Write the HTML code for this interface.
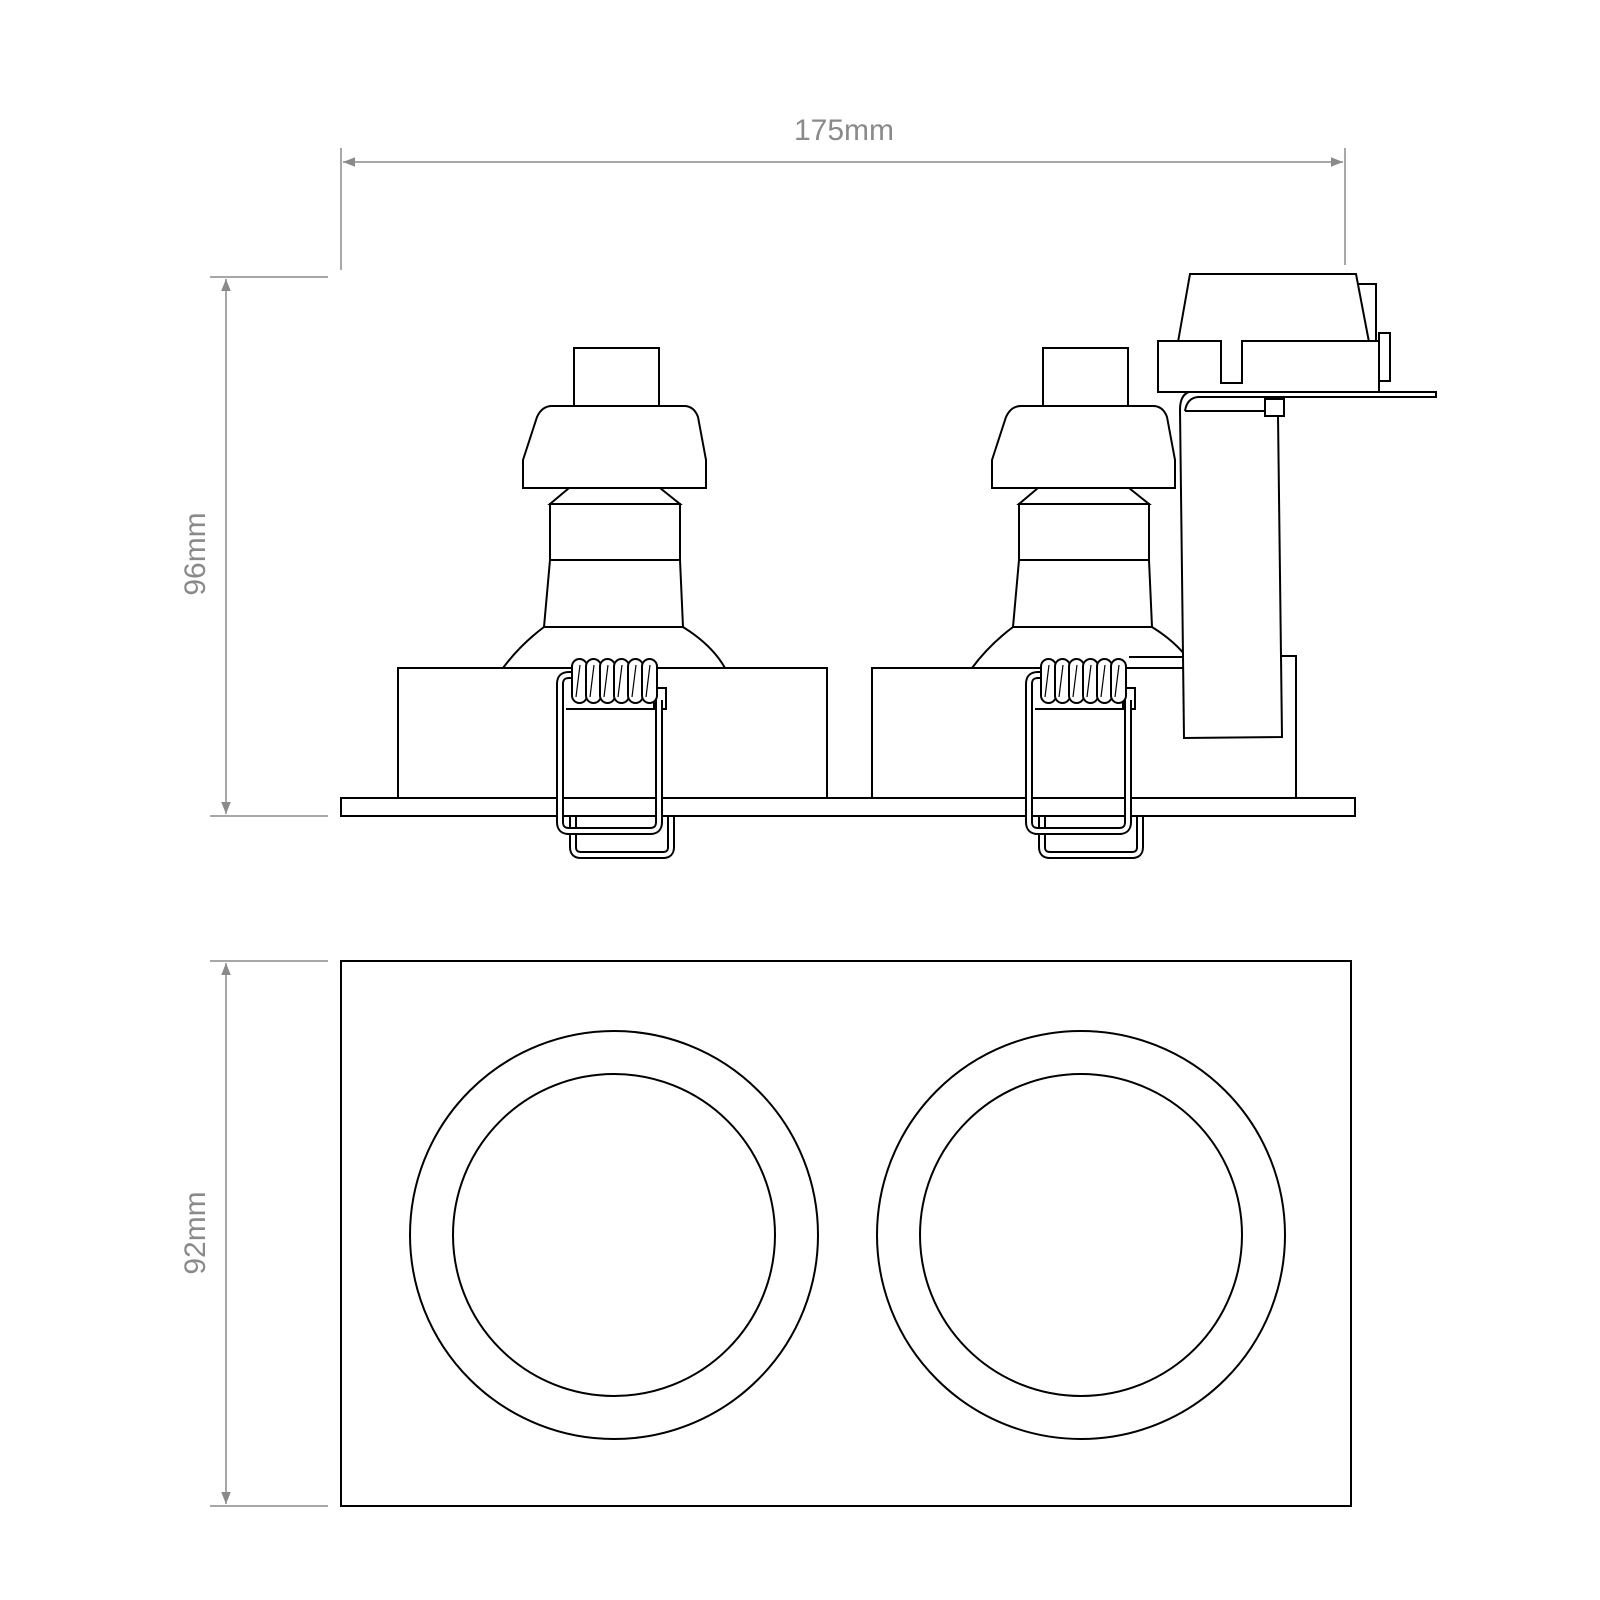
<!DOCTYPE html>
<html><head><meta charset="utf-8"><style>
html,body{margin:0;padding:0;background:#fff}
svg{display:block}
text{font-family:"Liberation Sans",sans-serif;fill:#8a8a8a;font-size:30px}
</style></head><body>
<svg width="1600" height="1600" viewBox="0 0 1600 1600" xmlns="http://www.w3.org/2000/svg">
<defs>
<marker id="ah" viewBox="0 0 10 10" refX="10" refY="5" markerWidth="12" markerHeight="12" markerUnits="userSpaceOnUse" orient="auto-start-reverse"><path d="M0,1 L10,5 L0,9 z" fill="#8a8a8a"/></marker>
<g id="lamp">
<rect x="574" y="348" width="85" height="58" fill="#fff" stroke="#000" stroke-width="2"/>
<path d="M523,488 L523,460 L537,417 Q542,406 552,406 L684,406 Q694,406 698,417 L706,460 L706,488 Z" fill="#fff" stroke="#000" stroke-width="2"/>
<path d="M569,488 L550,504 L680,504 L660,488" fill="none" stroke="#000" stroke-width="2"/>
<rect x="550" y="504" width="130" height="56" fill="none" stroke="#000" stroke-width="2"/>
<path d="M550,560 L544,627 L683,627 L680,560" fill="none" stroke="#000" stroke-width="2"/>
<path d="M544,627 Q520,645 503,668 M683,627 Q712,645 725,668" fill="none" stroke="#000" stroke-width="2"/>
</g>
<g id="clipLower">
<path d="M573,813 L573,847 Q573,855 581,855 L663,855 Q671,855 671,847 L671,813" fill="none" stroke="#000" stroke-width="8"/>
<path d="M573,813 L573,847 Q573,855 581,855 L663,855 Q671,855 671,847 L671,813" fill="none" stroke="#fff" stroke-width="4"/>
</g>
<g id="clipUpper">
<rect x="654" y="688" width="12" height="21" fill="#fff" stroke="#000" stroke-width="2"/>
<path d="M659,700 L659,822 Q659,831 650,831 L569,831 Q560,831 560,822 L560,684 Q560,675 569,675 L578,675" fill="none" stroke="#000" stroke-width="8"/>
<path d="M659,700 L659,822 Q659,831 650,831 L569,831 Q560,831 560,822 L560,684 Q560,675 569,675 L578,675" fill="none" stroke="#fff" stroke-width="4"/>
<line x1="566" y1="709" x2="654" y2="709" stroke="#000" stroke-width="2"/>
<g fill="#fff" stroke="#000" stroke-width="2">
<rect x="572" y="659" width="15" height="44" rx="7.5"/>
<rect x="586" y="659" width="15" height="44" rx="7.5"/>
<rect x="600" y="659" width="15" height="44" rx="7.5"/>
<rect x="614" y="659" width="15" height="44" rx="7.5"/>
<rect x="628" y="659" width="15" height="44" rx="7.5"/>
<rect x="642" y="659" width="15" height="44" rx="7.5"/>
</g>
<g stroke="#000" stroke-width="1.2" fill="none">
<path d="M580,665 L576,697 M594,665 L590,697 M608,665 L604,697 M622,665 L618,697 M636,665 L632,697 M650,665 L646,697"/>
</g>
</g>
</defs>

<text x="844" y="140" text-anchor="middle">175mm</text>
<line x1="341" y1="148" x2="341" y2="270" stroke="#8a8a8a" stroke-width="1.5"/>
<line x1="1345" y1="148" x2="1345" y2="265" stroke="#8a8a8a" stroke-width="1.5"/>
<line x1="343" y1="162" x2="1343" y2="162" stroke="#8a8a8a" stroke-width="1.5" marker-start="url(#ah)" marker-end="url(#ah)"/>

<line x1="210" y1="277" x2="328" y2="277" stroke="#8a8a8a" stroke-width="1.5"/>
<line x1="210" y1="816" x2="328" y2="816" stroke="#8a8a8a" stroke-width="1.5"/>
<line x1="226" y1="279" x2="226" y2="814" stroke="#8a8a8a" stroke-width="1.5" marker-start="url(#ah)" marker-end="url(#ah)"/>
<text x="0" y="0" text-anchor="middle" transform="translate(205,554) rotate(-90)">96mm</text>

<line x1="210" y1="961" x2="328" y2="961" stroke="#8a8a8a" stroke-width="1.5"/>
<line x1="210" y1="1506" x2="328" y2="1506" stroke="#8a8a8a" stroke-width="1.5"/>
<line x1="226" y1="963" x2="226" y2="1504" stroke="#8a8a8a" stroke-width="1.5" marker-start="url(#ah)" marker-end="url(#ah)"/>
<text x="0" y="0" text-anchor="middle" transform="translate(205,1233) rotate(-90)">92mm</text>

<use href="#clipLower"/>
<use href="#clipLower" transform="translate(469,0)"/>
<rect x="341" y="798" width="1014" height="18" fill="#fff" stroke="#000" stroke-width="2"/>
<path d="M398,798 L398,668 L827,668 L827,798" fill="none" stroke="#000" stroke-width="2"/>
<path d="M872,798 L872,668 L1184,668" fill="none" stroke="#000" stroke-width="2"/>
<path d="M1282,656 L1296,656 L1296,798" fill="none" stroke="#000" stroke-width="2"/>
<use href="#lamp"/>
<use href="#lamp" transform="translate(469,0)"/>
<use href="#clipUpper"/>
<use href="#clipUpper" transform="translate(469,0)"/>
<line x1="1129" y1="657" x2="1190" y2="657" stroke="#000" stroke-width="2"/>

<path d="M1189,392 Q1180,395 1180,410 L1184,738 L1282,737 L1278,415" fill="#fff" stroke="#000" stroke-width="2"/>
<path d="M1185,411 Q1187,398 1198,397 L1436,397 L1436,392 L1189,392" fill="#fff" stroke="#000" stroke-width="2"/>
<path d="M1185,411 L1265,411" fill="none" stroke="#000" stroke-width="2"/>
<rect x="1265" y="399" width="19" height="17" fill="#fff" stroke="#000" stroke-width="2"/>
<rect x="1379" y="333" width="11" height="48" fill="#fff" stroke="#000" stroke-width="2"/>
<rect x="1356" y="284" width="20" height="57" fill="#fff" stroke="#000" stroke-width="2"/>
<path d="M1178,342 L1190,274 L1356,274 L1369,342" fill="#fff" stroke="#000" stroke-width="2"/>
<path d="M1158,341 L1221,341 L1221,383 L1242,383 L1242,341 L1379,341 L1379,392 L1158,392 Z" fill="#fff" stroke="#000" stroke-width="2"/>

<rect x="341" y="961" width="1010" height="545" fill="none" stroke="#000" stroke-width="2"/>
<circle cx="614" cy="1235" r="204" fill="none" stroke="#000" stroke-width="2"/>
<circle cx="614" cy="1235" r="161" fill="none" stroke="#000" stroke-width="2"/>
<circle cx="1081" cy="1235" r="204" fill="none" stroke="#000" stroke-width="2"/>
<circle cx="1081" cy="1235" r="161" fill="none" stroke="#000" stroke-width="2"/>
</svg>
</body></html>
